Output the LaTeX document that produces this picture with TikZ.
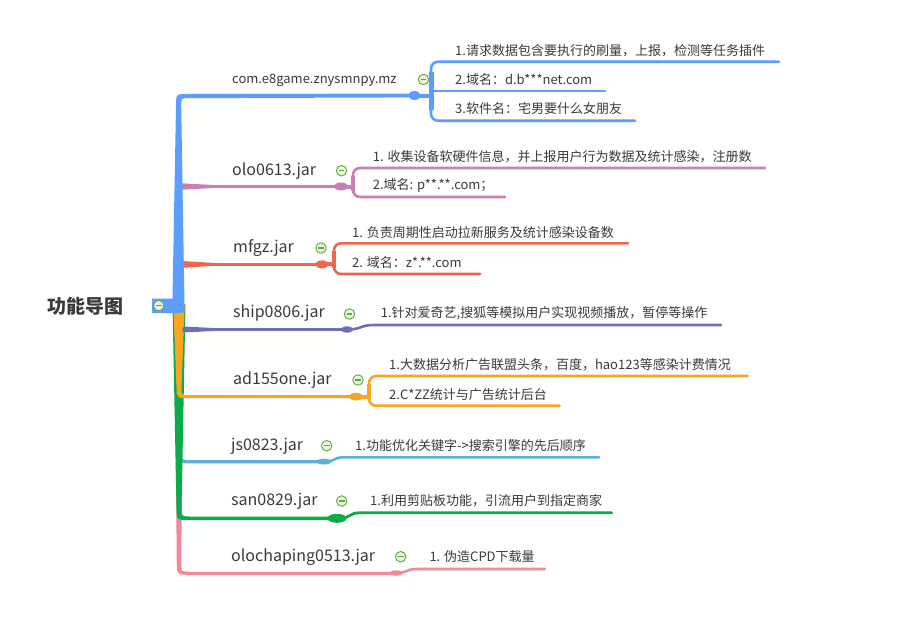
\documentclass[tikz,border=0pt]{standalone}
\usepackage{fontspec}
\setmainfont{Noto Sans CJK SC}
\definecolor{cBlue}{HTML}{5C9DFF}
\definecolor{cMauve}{HTML}{C97FB4}
\definecolor{cRed}{HTML}{EE6650}
\definecolor{cSlate}{HTML}{6E70B6}
\definecolor{cOrange}{HTML}{F6A623}
\definecolor{cLBlue}{HTML}{5BB1D7}
\definecolor{cGreen}{HTML}{0DAA4C}
\definecolor{cPink}{HTML}{F0899A}
\definecolor{txt}{HTML}{3A3A3A}
\definecolor{icoD}{HTML}{5DAA3D}
\definecolor{icoF}{HTML}{E9F5DC}
% #1 colour, #2 corner y, #3 top width, #4 corner width, #5 horizontal width, #6 end x
\newcommand\downtrunk[6]{%
  \fill[#1] ({179-#3/2},304) -- ({179-#4/2},{#2-10}) .. controls ({179-#4/2},{#2+#5/2}) .. (191,{#2+#5/2})
    -- (#6,{#2+#5/2}) -- (#6,{#2-#5/2}) -- (191,{#2-#5/2}) .. controls ({179+#4/2},{#2-#5/2}) .. ({179+#4/2},{#2-10})
    -- ({179+#3/2},304) -- cycle;}
\begin{document}
\begin{tikzpicture}[x=1pt,y=-1pt,
  lbl/.style={anchor=west,inner sep=0pt,text=txt,font=\fontsize{16}{18}\selectfont},
  sub/.style={anchor=west,inner sep=0pt,text=txt,font=\fontsize{13}{15}\selectfont},
  ico/.style={circle,draw=icoD,fill=icoF,line width=0.9pt,minimum size=10.5pt,inner sep=0pt,
    path picture={\draw[icoD,line width=1.2pt] ([xshift=-2.8pt]path picture bounding box.center) -- ([xshift=2.8pt]path picture bounding box.center);}},
  br/.style={line width=2.6pt,line cap=round},
  brc/.style={line width=2.6pt,line cap=round,rounded corners=7pt},
]
\useasboundingbox[fill=white] (0,0) rectangle (909,629);

% ---------- pink : olochaping0513.jar
\downtrunk{cPink}{573.3}{9}{4.5}{3}{394}
\coordinate (p8) at (396,573);
\coordinate (e8) at (545,569);
\draw[cPink,br] (p8) .. controls (408,573) and (406,569) .. (417,569) -- (e8);
\fill[cPink] (p8) ellipse (6.5 and 2.7);

% ---------- light blue : js0823.jar
\downtrunk{cLBlue}{461.7}{10}{5}{3.3}{322}
\coordinate (p6) at (324,461.6);
\coordinate (e6) at (599,457.3);
\draw[cLBlue,br] (p6) .. controls (336,461.6) and (333,457.3) .. (344,457.3) -- (e6);
\fill[cLBlue] (p6) ellipse (7.5 and 2.9);

% ---------- green : san0829.jar
\downtrunk{cGreen}{518.3}{13}{5}{3.6}{335}
\coordinate (p7) at (337,518.3);
\coordinate (e7) at (611.7,512.7);
\draw[cGreen,br,line width=2.8pt] (p7) .. controls (352,518.3) and (348,512.7) .. (361,512.7) -- (e7);
\fill[cGreen] (p7) ellipse (9.5 and 4.5);

% ---------- orange : ad155one.jar
\downtrunk{cOrange}{396.7}{11.5}{5}{3}{356}
\coordinate (p5) at (356,396.7);
\fill[cOrange] (p5) ellipse (7 and 3.8);
\draw[cOrange,line width=4pt] (p5) -- (369,396.7);
\draw[cOrange,brc] (747.6,376) -- (369,376) -- (369,405.7) -- (559.5,405.7);
\draw[cOrange,line width=4.5pt] (369,384) -- (369,399);

% ---------- slate : ship0806.jar
\fill[cSlate] (183,326.5) -- (222,328.4) -- (222,330.6) -- (183,332.5) -- cycle;
\coordinate (p4) at (347,329.5);
\coordinate (e4) at (721,325);
\draw[cSlate,br] (183,329.5) -- (p4) .. controls (362,329.5) and (360,325) .. (374,325) -- (e4);
\fill[cSlate] (p4) ellipse (6 and 3.2);

% ---------- red : mfgz.jar
\fill[cRed] (182,261) -- (218,263.2) -- (218,265.6) -- (182,267.8) -- cycle;
\coordinate (p3) at (322,264.4);
\draw[cRed,br] (182,264.4) -- (p3);
\fill[cRed] (p3) ellipse (6.5 and 4);
\draw[cRed,line width=4pt] (p3) -- (334,264.4);
\draw[cRed,brc] (628,243.3) -- (334,243.3) -- (334,274) -- (480,274);
\draw[cRed,line width=4.5pt] (334,251) -- (334,268);

% ---------- mauve : olo0613.jar
\fill[cMauve] (182,183.3) -- (218,185.3) -- (218,187.7) -- (182,189.7) -- cycle;
\coordinate (p2) at (341,186.5);
\draw[cMauve,br] (182,186.5) -- (p2);
\fill[cMauve] (p2) ellipse (7 and 4);
\draw[cMauve,line width=4pt] (p2) -- (353,186.5);
\draw[cMauve,brc] (765,168) -- (353,168) -- (353,197) -- (505,197);
\draw[cMauve,line width=4.5pt] (353,176) -- (353,191);

% ---------- blue : com.e8game.znysmnpy.mz (trunk + root box)
\fill[cBlue] (152,298.5) -- (172.5,298.5) -- (176,106) .. controls (176,94) .. (188,94) -- (412,93.6)
  -- (412,97.4) -- (188,98.2) .. controls (181.2,98.2) .. (181.2,106) -- (184.5,305)
  .. controls (184.5,313) .. (176.5,313) -- (152,313) -- cycle;
\coordinate (p1) at (414.5,95.5);
\fill[cBlue] (p1) ellipse (6 and 4.5);
\draw[cBlue,line width=4pt] (p1) -- (431,95.5);
\draw[cBlue,brc] (779,61.7) -- (431,61.7) -- (431,120.7) -- (635,120.7);
\draw[cBlue,line width=5pt] (431,72) -- (431,110);
\draw[cBlue,br] (431,91) -- (605,91);

% ---------- root
\node[anchor=center,inner sep=0pt,text=txt,font=\fontsize{19}{21}\selectfont\bfseries] (root) at (85.3,306) {功能导图};
\node[ico] (i0) at (158.7,305.6) {};

% ---------- branch labels
\node[lbl,font=\fontsize{13}{15}\selectfont] (n1) at (232,80) {com.e8game.znysmnpy.mz};
\node[lbl] (n2) at (232,171.5) {olo0613.jar};
\node[lbl] (n3) at (233,248.3) {mfgz.jar};
\node[lbl] (n4) at (233,313) {ship0806.jar};
\node[lbl] (n5) at (233,380) {ad155one.jar};
\node[lbl] (n6) at (231,446.5) {js0823.jar};
\node[lbl] (n7) at (231,501.5) {san0829.jar};
\node[lbl] (n8) at (231,556.7) {olochaping0513.jar};

% ---------- collapse icons
\node[ico] (i1) at (423.5,79.5) {};
\node[ico] (i2) at (341.5,170.7) {};
\node[ico] (i3) at (321,248) {};
\node[ico] (i4) at (349.5,314) {};
\node[ico] (i5) at (358,380) {};
\node[ico] (i6) at (326.7,445.7) {};
\node[ico] (i7) at (341.7,501) {};
\node[ico] (i8) at (400.7,556.7) {};

% ---------- sub texts
\node[sub] (s11) at (455,50.7) {1.请求数据包含要执行的刷量，上报，检测等任务插件};
\node[sub] (s12) at (455,80) {2.域名：d.b***net.com};
\node[sub] (s13) at (455,109) {3.软件名：宅男要什么女朋友};
\node[sub] (s21) at (372.7,156.7) {1. 收集设备软硬件信息，并上报用户行为数据及统计感染，注册数};
\node[sub] (s22) at (372.7,186) {2.域名: p**.**.com；};
\node[sub] (s31) at (352,232.7) {1. 负责周期性启动拉新服务及统计感染设备数};
\node[sub] (s32) at (352,262.3) {2. 域名：z*.**.com};
\node[sub] (s41) at (380.7,313.3) {1.针对爱奇艺,搜狐等模拟用户实现视频播放，暂停等操作};
\node[sub] (s51) at (389,365) {1.大数据分析广告联盟头条，百度，hao123等感染计费情况};
\node[sub] (s52) at (389,394.3) {2.C*ZZ统计与广告统计后台};
\node[sub] (s61) at (355,446) {1.功能优化关键字->搜索引擎的先后顺序};
\node[sub] (s71) at (370,501) {1.利用剪贴板功能，引流用户到指定商家};
\node[sub] (s81) at (429.3,556.7) {1. 伪造CPD下载量};
\end{tikzpicture}
\end{document}
